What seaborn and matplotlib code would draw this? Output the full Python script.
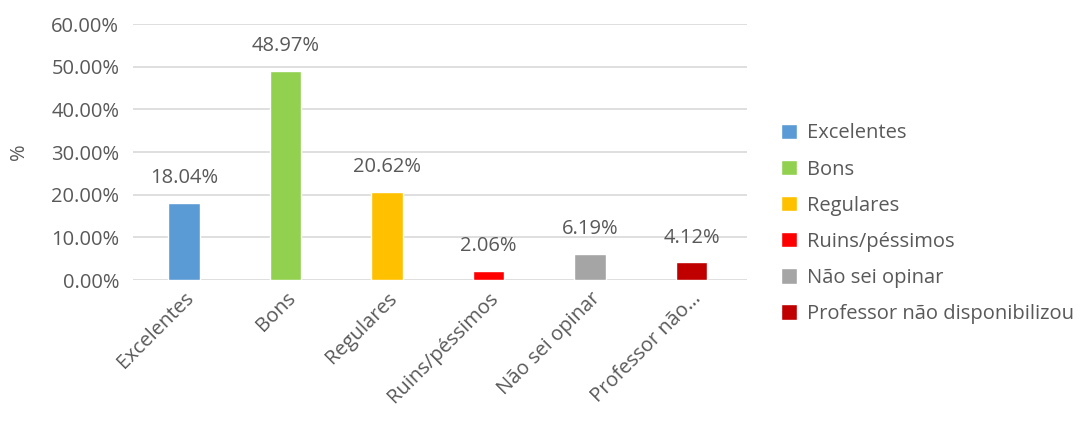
import matplotlib
matplotlib.use("Agg")
import matplotlib.pyplot as plt
import seaborn as sns
import pandas as pd
from matplotlib.ticker import FuncFormatter, MultipleLocator

categories = ["Excelentes", "Bons", "Regulares", "Ruins/péssimos", "Não sei opinar", "Professor não disponibilizou"]
tick_labels = ["Excelentes", "Bons", "Regulares", "Ruins/péssimos", "Não sei opinar", "Professor não…"]
values = [18.04, 48.97, 20.62, 2.06, 6.19, 4.12]
colors = ["#5B9BD5", "#92D050", "#FFC000", "#FF0000", "#A5A5A5", "#C00000"]

sns.set_theme(style="white")
plt.rcParams["font.family"] = ["Open Sans", "DejaVu Sans"]
txt = "#595959"
fs = 14.5

df = pd.DataFrame({"cat": categories, "val": values})
fig = plt.figure(figsize=(10.83, 4.23), dpi=100)
ax = fig.add_axes([0.123, 0.338, 0.567, 0.605])
sns.barplot(data=df, x="cat", y="val", hue="cat", palette=colors, dodge=False,
            width=0.31, ax=ax, legend=True, saturation=1)

ax.set_ylim(0, 60)
ax.yaxis.set_major_locator(MultipleLocator(10))
ax.yaxis.set_major_formatter(FuncFormatter(lambda v, p: f"{v:.2f}%"))
ax.grid(axis="y", color="#D9D9D9", linewidth=1.2)
ax.set_axisbelow(True)
for s in ax.spines.values():
    s.set_visible(False)
ax.tick_params(axis="both", length=0, labelsize=fs, colors=txt)
ax.tick_params(axis="y", pad=10)
ax.tick_params(axis="x", pad=6)
ax.set_xticks(range(len(categories)))
ax.set_xticklabels(tick_labels, rotation=45, ha="right", rotation_mode="anchor")
ax.set_xlabel("")
ax.set_ylabel("%", fontsize=fs, color=txt, labelpad=16)
ax.set_xlim(-0.5, 5.55)

for i, v in enumerate(values):
    ax.text(i, v + 3.5, f"{v:.2f}%", ha="center", va="bottom", fontsize=fs, color=txt)

handles, labels = ax.get_legend_handles_labels()
leg = ax.legend(handles, labels, loc="center left", bbox_to_anchor=(1.025, 0.22),
                frameon=False, fontsize=fs, handlelength=0.8, handleheight=0.8,
                handletextpad=0.5, labelspacing=0.8, labelcolor=txt)

fig.savefig("out.png", dpi=100)
